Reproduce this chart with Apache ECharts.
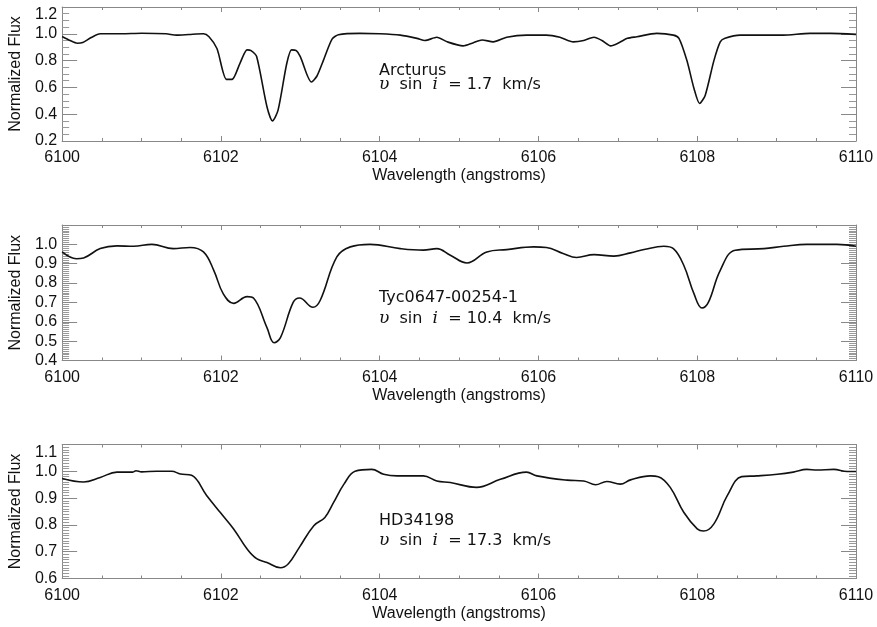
<!DOCTYPE html>
<html><head><meta charset="utf-8">
<script src="https://cdn.jsdelivr.net/npm/echarts@6/dist/echarts.min.js"></script>
<style>html,body{margin:0;padding:0;background:#fff}#c{width:877px;height:627px}</style>
</head><body><div id="c"></div>
<script>
// ---- data ----
const arctWave = [6100.00,6100.10,6100.19,6100.26,6100.36,6100.48,6100.75,6101.00,6101.31,6101.44,6101.60,6101.78,6101.85,6101.95,6102.07,6102.14,6102.24,6102.33,6102.38,6102.45,6102.58,6102.65,6102.72,6102.83,6102.89,6102.95,6103.00,6103.14,6103.21,6103.29,6103.40,6103.48,6103.75,6104.00,6104.26,6104.47,6104.57,6104.72,6104.85,6105.05,6105.18,6105.29,6105.43,6105.60,6105.85,6106.10,6106.27,6106.44,6106.57,6106.70,6106.80,6106.91,6107.02,6107.12,6107.24,6107.49,6107.70,6107.77,6107.87,6107.96,6108.03,6108.10,6108.21,6108.29,6108.35,6108.54,6108.79,6109.08,6109.42,6109.68,6110.00];
const arctFlux = [0.98,0.95,0.93,0.935,0.97,1.00,1.00,1.004,1.00,0.99,0.995,1.00,0.978,0.89,0.66,0.66,0.78,0.88,0.875,0.83,0.456,0.35,0.43,0.78,0.88,0.874,0.83,0.64,0.685,0.80,0.96,0.993,1.003,1.00,0.99,0.966,0.95,0.974,0.94,0.91,0.934,0.954,0.94,0.974,0.99,0.99,0.974,0.94,0.95,0.974,0.95,0.91,0.935,0.966,0.978,1.003,0.99,0.966,0.80,0.59,0.48,0.54,0.80,0.94,0.966,0.99,0.99,0.99,1.003,1.003,0.996];

const tycWave = [6100.00,6100.18,6100.27,6100.48,6100.69,6100.90,6101.13,6101.40,6101.61,6101.78,6101.91,6102.03,6102.16,6102.33,6102.41,6102.58,6102.67,6102.75,6102.91,6102.99,6103.16,6103.25,6103.46,6103.63,6103.88,6104.26,6104.55,6104.72,6104.89,6105.10,6105.35,6105.60,6105.94,6106.10,6106.31,6106.48,6106.70,6106.95,6107.16,6107.33,6107.58,6107.70,6107.83,6107.96,6108.06,6108.14,6108.29,6108.48,6108.84,6109.09,6109.38,6109.76,6110.00];
const tycFlux = [0.961,0.926,0.93,0.978,0.992,0.99,1.0,0.978,0.984,0.961,0.866,0.744,0.695,0.73,0.723,0.57,0.492,0.518,0.70,0.723,0.675,0.71,0.935,0.987,1.0,0.978,0.97,0.978,0.944,0.904,0.961,0.973,0.987,0.984,0.953,0.932,0.947,0.939,0.956,0.973,0.99,0.978,0.892,0.744,0.671,0.70,0.866,0.97,0.978,0.99,1.0,1.0,0.99];

const hdWave = [6100.00,6100.27,6100.48,6100.69,6100.89,6100.93,6101.00,6101.19,6101.38,6101.49,6101.63,6101.82,6101.99,6102.16,6102.33,6102.45,6102.58,6102.75,6102.85,6102.99,6103.17,6103.31,6103.42,6103.55,6103.69,6103.90,6104.05,6104.22,6104.55,6104.72,6104.89,6105.22,6105.52,6105.85,6105.98,6106.36,6106.57,6106.72,6106.86,6107.03,6107.16,6107.41,6107.51,6107.66,6107.83,6108.00,6108.08,6108.21,6108.38,6108.56,6108.75,6109.01,6109.21,6109.38,6109.51,6109.72,6109.89,6110.00];
const hdFlux = [0.973,0.96,0.977,0.997,0.997,1.002,0.998,1.0,1.0,0.99,0.985,0.91,0.847,0.785,0.71,0.674,0.66,0.64,0.655,0.717,0.797,0.828,0.884,0.952,1.0,1.007,0.989,0.983,0.983,0.964,0.958,0.94,0.97,0.997,0.983,0.967,0.964,0.95,0.962,0.952,0.968,0.983,0.98,0.94,0.847,0.785,0.777,0.804,0.91,0.98,0.983,0.989,0.997,1.007,1.005,1.007,0.999,0.999];

const xRange = [6100, 6110];
const xTickStep = 2;
const yRanges = [[0.2, 1.2], [0.4, 1.1], [0.6, 1.1]];
const yTickSteps = [0.2, 0.1, 0.1];
const yMinorSplits = [4, 10, 10];
const starNames = ['Arcturus', 'Tyc0647-00254-1', 'HD34198'];
const vsini = ['1.7', '10.4', '17.3'];
const xTitle = 'Wavelength (angstroms)';
const yTitle = 'Normalized Flux';

// ---- layout / style ----
const gridTops = [7, 225, 444.5];
const gridHeights = [134, 135.5, 134];
const nameTops = [63, 290, 513];
const lineTops = [76, 310, 532];
const smoothness = [0.25, 0.4, 0.4];
const AX = '#888';
const TXT = '#111';
const FONT = 'Liberation Sans';

const waves = [arctWave, tycWave, hdWave];
const fluxes = [arctFlux, tycFlux, hdFlux];

const grid = [], xAxis = [], yAxis = [], series = [], title = [];
for (let i = 0; i < 3; i++) {
  grid.push({left: 62, right: 21, top: gridTops[i], height: gridHeights[i], containLabel: false});
  const xBase = {
    gridIndex: i, type: 'value', min: xRange[0], max: xRange[1], interval: xTickStep,
    axisLine: {show: true, onZero: false, lineStyle: {color: AX, width: 1}},
    axisTick: {show: true, inside: true, length: 5, lineStyle: {color: AX, width: 1}},
    minorTick: {show: true, splitNumber: 4, length: 3, lineStyle: {color: AX, width: 1}},
    splitLine: {show: false}, minorSplitLine: {show: false}
  };
  xAxis.push(Object.assign({}, xBase, {
    position: 'bottom',
    axisLabel: {color: TXT, fontSize: 16, fontFamily: FONT, margin: 9, formatter: v => String(v)},
    name: xTitle, nameLocation: 'middle', nameGap: 27,
    nameTextStyle: {color: TXT, fontSize: 16, fontFamily: FONT}
  }));
  xAxis.push(Object.assign({}, xBase, {position: 'top', axisLabel: {show: false}}));

  const yBase = {
    gridIndex: i, type: 'value', min: yRanges[i][0], max: yRanges[i][1], interval: yTickSteps[i],
    axisLine: {show: true, onZero: false, lineStyle: {color: AX, width: 1}},
    axisTick: {show: true, inside: true, length: 15, lineStyle: {color: AX, width: 1}},
    minorTick: {show: true, splitNumber: yMinorSplits[i], length: 7, lineStyle: {color: '#999', width: 1}},
    splitLine: {show: false}, minorSplitLine: {show: false}
  };
  yAxis.push(Object.assign({}, yBase, {
    position: 'left',
    axisLabel: {color: TXT, fontSize: 16, fontFamily: FONT, margin: 5,
      formatter: v => v.toFixed(1), verticalAlignMaxLabel: 'top'},
    name: yTitle, nameLocation: 'middle', nameGap: 36, nameRotate: 90,
    nameTextStyle: {color: TXT, fontSize: 16, fontFamily: FONT}
  }));
  yAxis.push(Object.assign({}, yBase, {position: 'right', axisLabel: {show: false}}));

  series.push({
    type: 'line', xAxisIndex: 2 * i, yAxisIndex: 2 * i,
    data: waves[i].map((w, k) => [w, fluxes[i][k]]),
    showSymbol: false, smooth: smoothness[i],
    lineStyle: {color: TXT, width: 1.6}, clip: true
  });

  title.push({text: starNames[i], left: 379, top: nameTops[i], padding: 0,
    textStyle: {color: TXT, fontSize: 16, fontWeight: 'normal', fontFamily: 'DejaVu Sans'}});
  title.push({text: '{m|\u03c5}  sin  {m|i}  = ' + vsini[i] + '  km/s', left: 379, top: lineTops[i], padding: 0,
    textStyle: {color: TXT, fontSize: 16, fontWeight: 'normal', fontFamily: 'DejaVu Sans',
      rich: {m: {fontFamily: 'DejaVu Serif', fontStyle: 'italic', fontSize: 17, color: TXT}}}});
}

const chart = echarts.init(document.getElementById('c'), null, {renderer: 'canvas'});
chart.setOption({animation: false, backgroundColor: '#fff', title, grid, xAxis, yAxis, series});
</script>
</body></html>
